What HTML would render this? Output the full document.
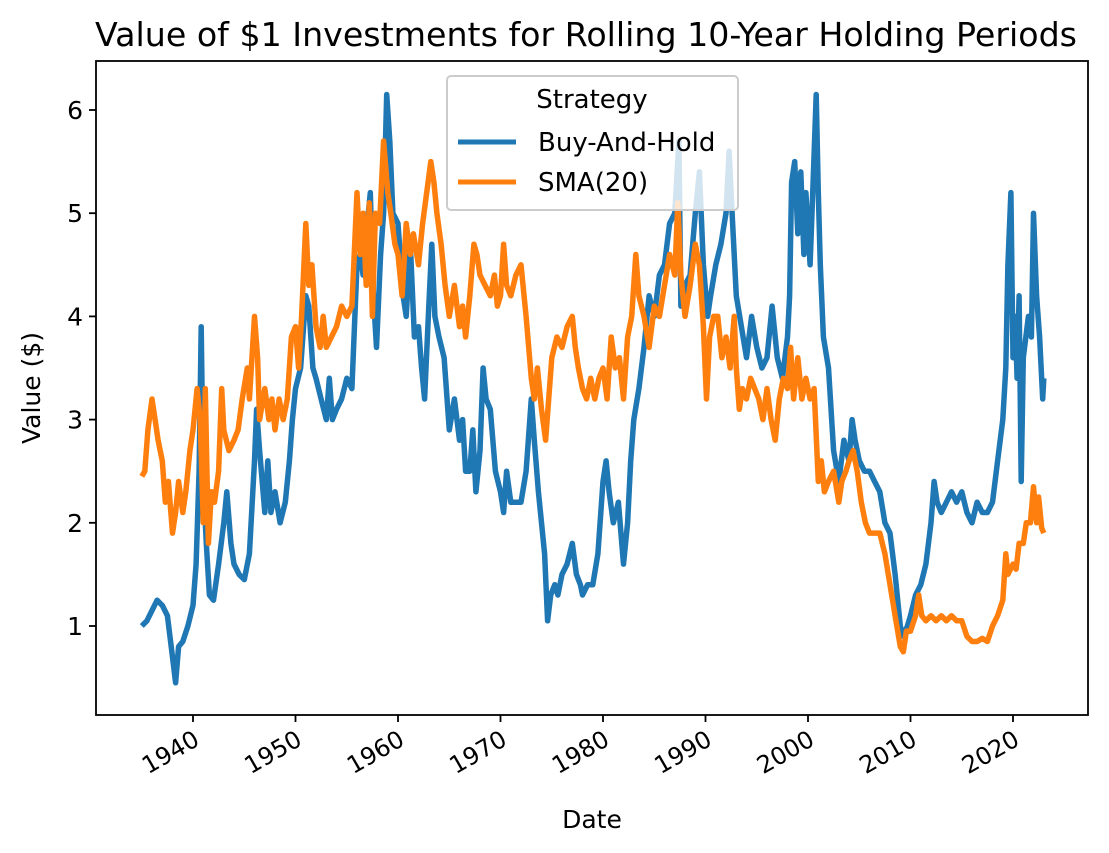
<!DOCTYPE html>
<html><head><meta charset="utf-8"><style>
body{margin:0;background:#fff;}
svg{display:block;font-family:"DejaVu Sans","Liberation Sans",sans-serif;}
</style></head><body>
<svg id="chart" width="1109" height="853">
<text x="586" y="46" font-size="33" textLength="982" lengthAdjust="spacingAndGlyphs" text-anchor="middle">Value of $1 Investments for Rolling 10-Year Holding Periods</text>
<g id="plot"></g>
<rect x="96" y="61" width="992" height="654" fill="none" stroke="#000" stroke-width="1.8"/>
<g id="xticks"></g>
<g id="yticks"></g>
<text x="592" y="828" font-size="25" text-anchor="middle">Date</text>
<text transform="translate(40,388) rotate(-90)" font-size="25" text-anchor="middle">Value ($)</text>
<g>
<rect x="447" y="76" width="291" height="134" rx="4" fill="#fff" fill-opacity="0.8" stroke="#ccc" stroke-width="2"/>
<text x="592" y="108" font-size="26" text-anchor="middle">Strategy</text>
<line x1="458" y1="142" x2="516" y2="142" stroke="#1f77b4" stroke-width="5"/>
<text x="538" y="151" font-size="26">Buy-And-Hold</text>
<line x1="458" y1="182" x2="516" y2="182" stroke="#ff7f0e" stroke-width="5"/>
<text x="538" y="191" font-size="26">SMA(20)</text>
</g>
</svg>
<script>
const bhDates=[1935,1935.5,1936,1936.5,1937,1937.5,1938,1938.3,1938.6,1939,1939.5,1940,1940.3,1940.6,1940.8,1941,1941.3,1941.6,1942,1942.5,1943,1943.3,1943.7,1944,1944.5,1945,1945.5,1946,1946.2,1946.5,1947,1947.3,1947.6,1948,1948.5,1949,1949.4,1949.7,1950,1950.5,1951,1951.3,1951.7,1952,1952.5,1953,1953.3,1953.6,1954,1954.5,1955,1955.5,1956,1956.3,1956.6,1957,1957.3,1957.6,1957.9,1958.3,1958.6,1958.9,1959.2,1959.5,1960,1960.5,1960.8,1961.2,1961.6,1962,1962.3,1962.6,1963,1963.3,1963.6,1964,1964.5,1965,1965.5,1966,1966.3,1966.6,1967,1967.3,1967.6,1968,1968.3,1968.6,1969,1969.5,1970,1970.3,1970.6,1971,1971.5,1972,1972.5,1973,1973.3,1973.7,1974,1974.3,1974.6,1974.9,1975.3,1975.6,1976,1976.5,1977,1977.4,1977.8,1978,1978.5,1979,1979.5,1980,1980.3,1980.6,1981,1981.5,1982,1982.4,1982.7,1983,1983.5,1984,1984.5,1985,1985.5,1986,1986.5,1987,1987.4,1987.6,1988,1988.5,1989,1989.4,1989.8,1990.2,1990.5,1991,1991.5,1992,1992.3,1992.6,1993,1993.5,1994,1994.5,1995,1995.5,1996,1996.5,1997,1997.5,1998,1998.2,1998.4,1998.7,1999,1999.3,1999.6,1999.8,2000.2,2000.5,2000.8,2001,2001.2,2001.5,2002,2002.5,2003,2003.5,2004,2004.3,2004.6,2005,2005.5,2006,2006.5,2007,2007.5,2008,2008.5,2009,2009.3,2009.7,2010,2010.5,2011,2011.5,2012,2012.3,2012.6,2013,2013.5,2014,2014.5,2015,2015.5,2016,2016.5,2017,2017.5,2018,2018.5,2019,2019.3,2019.5,2019.8,2020,2020.2,2020.4,2020.6,2020.8,2021,2021.5,2021.8,2022,2022.3,2022.6,2022.9,2023];
const bhValues=[1.0,1.05,1.15,1.25,1.2,1.1,0.7,0.45,0.8,0.85,1.0,1.2,1.6,2.5,3.9,2.4,1.8,1.3,1.25,1.6,2.0,2.3,1.8,1.6,1.5,1.45,1.7,2.6,3.1,2.7,2.1,2.6,2.1,2.3,2.0,2.2,2.6,3.0,3.3,3.5,4.2,4.1,3.5,3.4,3.2,3.0,3.4,3.0,3.1,3.2,3.4,3.3,4.5,4.6,4.4,4.9,5.2,4.2,3.7,4.6,5.0,6.15,5.7,5.0,4.9,4.2,4.0,4.7,3.8,3.9,3.5,3.2,4.1,4.7,4.0,3.8,3.6,2.9,3.2,2.8,3.0,2.5,2.5,2.9,2.3,2.7,3.5,3.2,3.1,2.5,2.3,2.1,2.5,2.2,2.2,2.2,2.5,3.2,2.8,2.3,2.0,1.7,1.05,1.3,1.4,1.3,1.5,1.6,1.8,1.5,1.4,1.3,1.4,1.4,1.7,2.4,2.6,2.3,2.0,2.2,1.6,2.0,2.6,3.0,3.3,3.7,4.2,4.0,4.4,4.5,4.9,5.0,5.7,4.1,4.3,4.4,5.0,5.4,4.5,4.0,4.2,4.5,4.7,5.0,5.6,5.0,4.2,3.9,3.6,4.0,3.7,3.5,3.6,4.1,3.6,3.4,3.8,4.2,5.3,5.5,4.8,5.4,4.6,5.2,4.5,5.3,6.15,5.2,4.5,3.8,3.5,2.7,2.4,2.8,2.6,3.0,2.8,2.6,2.5,2.5,2.4,2.3,2.0,1.9,1.5,1.0,0.9,1.0,1.1,1.3,1.4,1.6,2.0,2.4,2.2,2.1,2.2,2.3,2.2,2.3,2.1,2.0,2.2,2.1,2.1,2.2,2.6,3.0,3.5,4.5,5.2,3.6,4.0,3.4,4.2,2.4,3.6,4.0,3.8,5.0,4.2,3.8,3.2,3.4];
const smaDates=[1935,1935.3,1935.6,1936,1936.3,1936.6,1937,1937.3,1937.6,1938,1938.3,1938.6,1939,1939.3,1939.7,1940,1940.4,1940.7,1941,1941.2,1941.5,1941.8,1942.1,1942.5,1942.8,1943,1943.5,1944,1944.4,1944.8,1945.3,1945.5,1946,1946.3,1946.5,1947,1947.4,1947.7,1948,1948.4,1948.8,1949.2,1949.6,1950,1950.3,1950.6,1951,1951.3,1951.6,1952,1952.4,1952.7,1953,1953.5,1954,1954.5,1955,1955.5,1956,1956.3,1956.6,1956.9,1957.2,1957.5,1957.8,1958.2,1958.6,1959,1959.3,1959.7,1960,1960.4,1960.8,1961.2,1961.5,1962,1962.4,1962.8,1963.2,1963.5,1963.8,1964.2,1964.6,1965,1965.5,1966,1966.3,1966.6,1967,1967.4,1967.7,1968,1968.5,1969,1969.4,1969.7,1970,1970.3,1970.6,1971,1971.5,1972,1972.5,1973,1973.3,1973.6,1974,1974.4,1974.7,1975,1975.5,1976,1976.5,1977,1977.3,1977.6,1978,1978.4,1978.8,1979.2,1979.6,1980,1980.4,1980.8,1981.2,1981.6,1982,1982.4,1982.8,1983.2,1983.5,1984,1984.5,1985,1985.5,1986,1986.5,1987,1987.3,1987.6,1988,1988.5,1989,1989.4,1989.8,1990.1,1990.4,1990.8,1991.2,1991.6,1992,1992.4,1992.8,1993,1993.3,1993.6,1994,1994.4,1994.8,1995.2,1995.6,1996,1996.4,1996.8,1997.2,1997.6,1998,1998.3,1998.6,1999,1999.4,1999.8,2000.2,2000.6,2001,2001.3,2001.6,2002,2002.5,2003,2003.3,2003.7,2004,2004.4,2004.8,2005.2,2005.6,2006,2006.5,2007,2007.5,2008,2008.5,2009,2009.3,2009.6,2010,2010.5,2010.8,2011.1,2011.5,2012,2012.5,2013,2013.5,2014,2014.5,2015,2015.5,2016,2016.5,2017,2017.5,2018,2018.5,2019,2019.3,2019.5,2020,2020.3,2020.6,2021,2021.3,2021.7,2022,2022.3,2022.5,2022.8,2023];
const smaValues=[2.45,2.5,2.9,3.2,3.0,2.8,2.6,2.2,2.4,1.9,2.1,2.4,2.1,2.3,2.7,2.9,3.3,3.0,2.0,3.3,1.8,2.3,2.2,2.5,3.3,2.9,2.7,2.8,2.9,3.2,3.5,3.2,4.0,3.6,3.0,3.3,3.0,3.2,2.9,3.2,3.0,3.2,3.8,3.9,3.5,4.0,4.9,4.3,4.5,3.9,3.7,4.0,3.7,3.8,3.9,4.1,4.0,4.1,5.2,4.6,5.0,4.3,5.1,4.0,5.0,4.9,5.7,5.2,5.0,4.7,4.6,4.2,4.9,4.6,4.8,4.5,4.9,5.2,5.5,5.3,5.0,4.7,4.3,4.0,4.3,3.9,4.1,3.8,4.2,4.7,4.6,4.4,4.3,4.2,4.4,4.1,4.2,4.7,4.3,4.2,4.4,4.5,4.0,3.4,3.2,3.5,3.1,2.8,3.2,3.6,3.8,3.7,3.9,4.0,3.7,3.5,3.3,3.2,3.4,3.2,3.4,3.5,3.2,3.8,3.5,3.6,3.2,3.8,4.0,4.6,4.2,4.0,3.7,4.1,4.0,4.3,4.6,4.4,5.1,4.4,4.0,4.3,4.7,4.5,3.9,3.2,3.8,4.0,4.0,3.6,3.8,3.5,4.0,3.5,3.1,3.3,3.2,3.4,3.3,3.2,3.0,3.3,3.0,2.8,3.2,3.4,3.3,3.7,3.2,3.6,3.2,3.4,3.2,3.3,2.4,2.6,2.3,2.4,2.5,2.2,2.4,2.5,2.6,2.7,2.5,2.2,2.0,1.9,1.9,1.9,1.7,1.4,1.1,0.8,0.75,0.95,0.95,1.1,1.3,1.1,1.05,1.1,1.05,1.1,1.05,1.1,1.05,1.05,0.9,0.85,0.85,0.88,0.85,1.0,1.1,1.25,1.7,1.5,1.6,1.55,1.8,1.8,2.0,2.0,2.35,2.0,2.25,1.95,1.9];
const xTickYears=[1940,1950,1960,1970,1980,1990,2000,2010,2020];
const yTickValues=[1,2,3,4,5,6];

const NS='http://www.w3.org/2000/svg';
function xs(yr){return 193+(yr-1940)*10.25;}
function ys(v){return 626-(v-1)*103.2;}
const plot=document.getElementById('plot');
function drawLine(dates,vals,color,name){
  const p=document.createElementNS(NS,'path');
  let d='';
  for(let i=0;i<dates.length;i++){d+=(i?'L':'M')+xs(dates[i]).toFixed(1)+','+ys(vals[i]).toFixed(1);}
  p.setAttribute('d',d);p.setAttribute('fill','none');p.setAttribute('stroke',color);
  p.setAttribute('stroke-width','5.5');p.setAttribute('stroke-linejoin','round');
  
  
  plot.appendChild(p);
}
drawLine(bhDates,bhValues,'#1f77b4','buy-and-hold-line');
drawLine(smaDates,smaValues,'#ff7f0e','sma20-line');
const xg=document.getElementById('xticks');
xTickYears.forEach(yr=>{
  const x=xs(yr);
  const l=document.createElementNS(NS,'line');
  l.setAttribute('x1',x);l.setAttribute('x2',x);l.setAttribute('y1',715);l.setAttribute('y2',722);l.setAttribute('stroke','#000');l.setAttribute('stroke-width','1.8');
  
  
  xg.appendChild(l);
  const t=document.createElementNS(NS,'text');
  t.setAttribute('transform','translate('+(x+8)+',744) rotate(-30)');
  t.setAttribute('text-anchor','end');t.setAttribute('font-size','24');
  t.textContent=yr;
  
  
  xg.appendChild(t);
});
const yg=document.getElementById('yticks');
yTickValues.forEach(v=>{
  const y=ys(v);
  const l=document.createElementNS(NS,'line');
  l.setAttribute('x1',89);l.setAttribute('x2',96);l.setAttribute('y1',y);l.setAttribute('y2',y);l.setAttribute('stroke','#000');l.setAttribute('stroke-width','1.8');
  
  
  yg.appendChild(l);
  const t=document.createElementNS(NS,'text');
  t.setAttribute('x',83);t.setAttribute('y',y+9);t.setAttribute('text-anchor','end');t.setAttribute('font-size','25');
  t.textContent=v;
  
  
  yg.appendChild(t);
});
</script>
</body></html>
